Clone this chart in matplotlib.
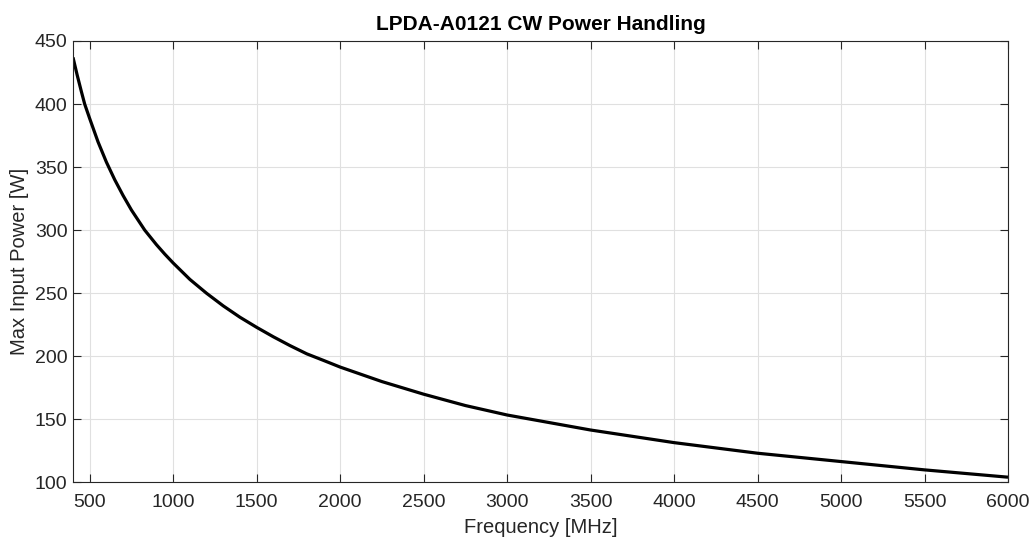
import matplotlib
matplotlib.use("Agg")
import matplotlib.pyplot as plt

# values
freq_mhz = [400, 425, 450, 470, 500, 550, 600, 650, 700, 750, 800, 830, 900, 950,
            1000, 1100, 1200, 1300, 1400, 1500, 1600, 1700, 1800, 1900, 2000, 2250,
            2500, 2750, 3000, 3500, 4000, 4500, 5000, 5500, 6000]
max_power_w = [437, 423, 410, 400, 388.5, 370, 354, 340, 327.5, 316, 306, 300, 288.5, 281,
               274, 261, 250, 240, 231, 223, 215.5, 208.5, 202, 196.8, 191.5, 180,
               170, 161, 153.5, 141.6, 131.6, 123.2, 116.6, 110, 104.2]

x_ticks = [500, 1000, 1500, 2000, 2500, 3000, 3500, 4000, 4500, 5000, 5500, 6000]
y_ticks = [100, 150, 200, 250, 300, 350, 400, 450]

plt.rcParams['font.family'] = ['Liberation Sans', 'DejaVu Sans']
axis_color = '#262626'

fig = plt.figure(figsize=(10.31, 5.4), dpi=100)
ax = fig.add_axes([0.0708, 0.1065, 0.9069, 0.8176])

ax.plot(freq_mhz, max_power_w, color='black', linewidth=2.3,
        solid_joinstyle='round', solid_capstyle='butt')

ax.set_xlim(400, 6000)
ax.set_ylim(100, 450)
ax.set_xticks(x_ticks)
ax.set_yticks(y_ticks)
ax.grid(True, color='#e0e0e0', linewidth=0.8)
ax.set_axisbelow(True)

ax.tick_params(direction='in', length=6, width=0.8, top=True, right=True,
               labelsize=14, colors=axis_color)
ax.tick_params(axis='x', pad=8)
ax.tick_params(axis='y', pad=4)
for spine in ax.spines.values():
    spine.set_color(axis_color)
    spine.set_linewidth(0.8)

ax.set_title('LPDA-A0121 CW Power Handling', fontsize=15, fontweight='bold',
             color='black', pad=8)
ax.set_xlabel('Frequency [MHz]', fontsize=14.5, color=axis_color, labelpad=5)
ax.set_ylabel('Max Input Power [W]', fontsize=14.5, color=axis_color, labelpad=4)

fig.savefig('out.png', dpi=100, facecolor='white')
